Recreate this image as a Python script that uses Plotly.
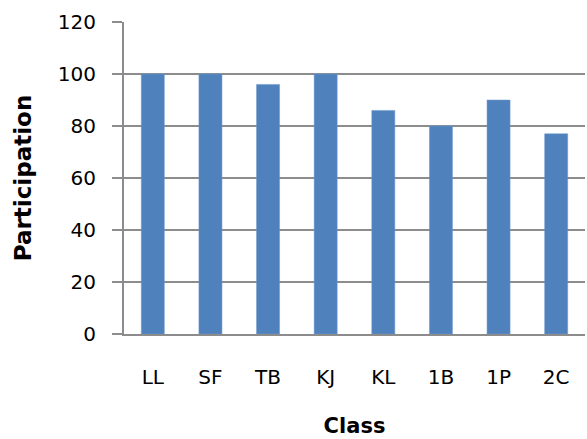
import plotly.graph_objects as go

categories = ["LL", "SF", "TB", "KJ", "KL", "1B", "1P", "2C"]
participation = [100, 100, 96, 100, 86, 80, 90, 77]
y_ticks = [0, 20, 40, 60, 80, 100, 120]

FONT = "DejaVu Sans"
GRID = "#8c8c8c"

fig = go.Figure(
    go.Bar(
        x=categories,
        y=participation,
        marker=dict(color="#4f81bd", line=dict(color="#6d98cc", width=0.5)),
        width=0.4,
    )
)

fig.update_layout(
    width=587,
    height=439,
    margin=dict(l=124, r=2, t=22, b=105),
    paper_bgcolor="white",
    plot_bgcolor="white",
    font=dict(family=FONT, size=20, color="black"),
    showlegend=False,
    bargap=0.6,
)

fig.update_xaxes(
    automargin=False,
    showgrid=False,
    showline=True,
    linecolor=GRID,
    linewidth=2,
    ticks="",
    ticklabelstandoff=24,
    tickfont=dict(family=FONT, size=20),
    title=dict(text="<b>Class</b>", font=dict(family=FONT, size=21), standoff=30),
)

fig.update_yaxes(
    automargin=False,
    range=[0, 120],
    tickvals=y_ticks,
    showgrid=True,
    gridcolor=GRID,
    gridwidth=2,
    showline=True,
    linecolor=GRID,
    linewidth=2,
    ticks="outside",
    ticklen=10,
    tickwidth=2,
    tickcolor=GRID,
    ticklabelstandoff=12,
    tickfont=dict(family=FONT, size=20),
    zeroline=False,
    title=dict(text="<b>Participation</b>", font=dict(family=FONT, size=23), standoff=20),
)

fig.write_html(
    "out.html",
    config={"displayModeBar": False},
    post_script="document.body.style.margin='0';document.body.style.padding='0';",
)
